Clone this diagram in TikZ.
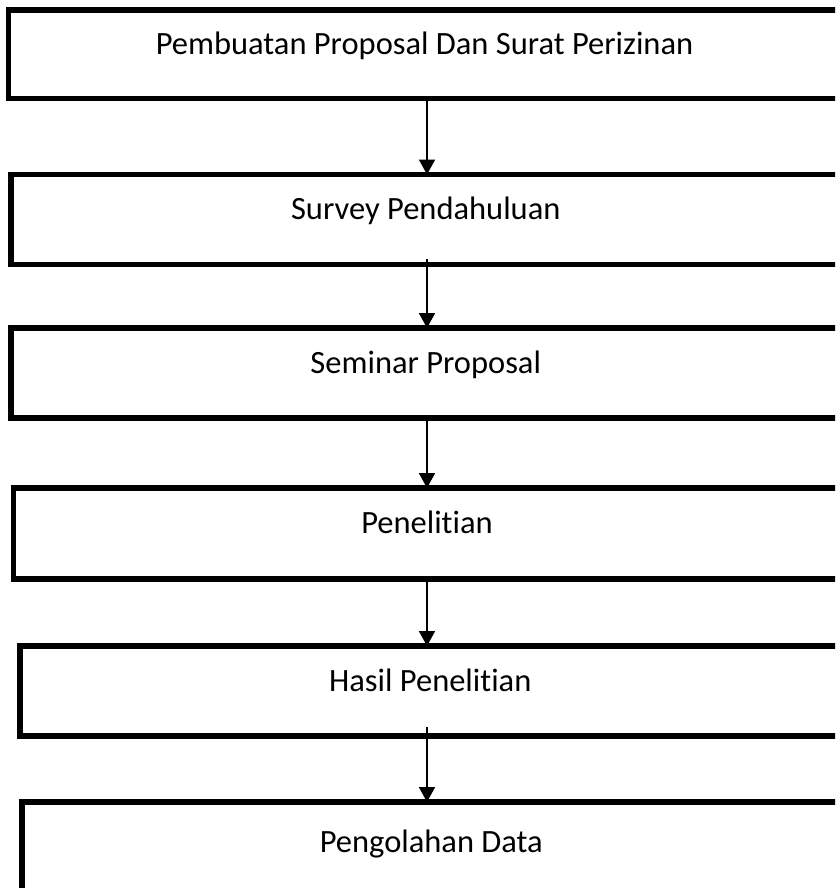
\documentclass[tikz,border=0pt]{standalone}
\usepackage{fontspec}
\setmainfont{Carlito}[Ligatures=NoCommon]
\usetikzlibrary{arrows.meta}
\tikzset{
  stage/.style={draw, line width=5.5pt, rectangle, outer sep=0pt,
    text height=24pt, text depth=24pt, font=\fontsize{32.5}{36}\selectfont},
  flow/.style={line width=1.8pt, -{Triangle[width=16pt,length=15pt]}}
}
\begin{document}
\begin{tikzpicture}[x=1pt,y=-1pt]
    \useasboundingbox (0,0) rectangle (835,888);
    \clip (0,0) rectangle (835,888);
    \fill[white] (0,0) rectangle (835,888);
    % stages
    \node[stage, minimum width=832pt, minimum height=88.5pt] (proposal) at (424.5,54.25) {Pembuatan Proposal Dan Surat Perizinan};
    \node[stage, minimum width=829.5pt, minimum height=90pt] (survey) at (425.75,219.5) {Survey Pendahuluan};
    \node[stage, minimum width=829.5pt, minimum height=90pt] (seminar) at (425.75,373) {Seminar Proposal};
    \node[stage, minimum width=827pt, minimum height=91pt] (penelitian) at (427,533.5) {Penelitian};
    \node[stage, minimum width=820.5pt, minimum height=90pt] (hasil) at (430.25,691) {Hasil Penelitian};
    \node[stage, minimum width=818.5pt, minimum height=100pt] (olah) at (431.25,852) {Pengolahan Data};
    \coordinate (spine) at (427,0);
    % arrows
    \draw[flow] (proposal.south -| spine) -- (survey.north -| spine);
    \draw[flow, shorten <=-6pt] (survey.south -| spine) -- (seminar.north -| spine);
    \draw[flow] (seminar.south -| spine) -- (penelitian.north -| spine);
    \draw[flow] (penelitian.south -| spine) -- (hasil.north -| spine);
    \draw[flow, shorten <=-9pt] (hasil.south -| spine) -- (olah.north -| spine);
\end{tikzpicture}
\end{document}
